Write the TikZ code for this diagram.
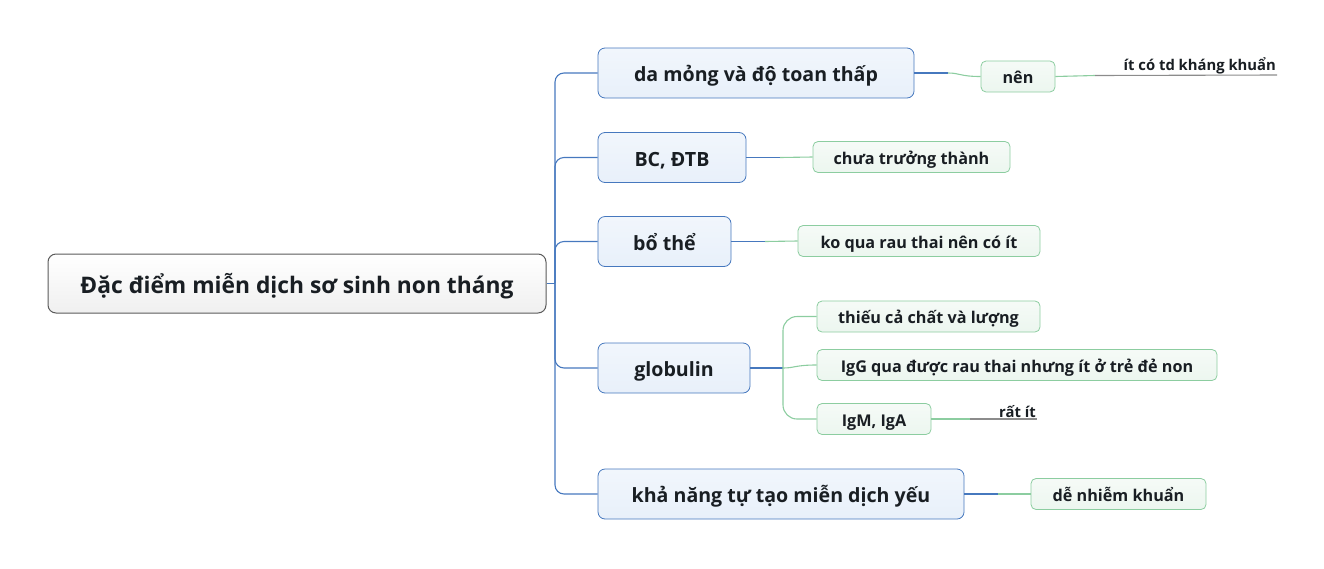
\documentclass[tikz,border=0pt]{standalone}
\usepackage{fontspec}
\setmainfont{Open Sans}
\usepackage{tikz}
\definecolor{txt}{RGB}{25,30,35}
\definecolor{rootline}{RGB}{90,90,90}
\definecolor{mainline}{RGB}{70,120,190}
\definecolor{mainfill}{RGB}{232,240,250}
\definecolor{subline}{RGB}{140,205,160}
\definecolor{subfill}{RGB}{236,246,239}
\definecolor{noteline}{RGB}{140,140,140}
\tikzset{
  rootbox/.style={draw=rootline,rounded corners=8pt,top color=white,bottom color=gray!12,line width=1pt,
    text=txt,inner sep=0pt,text height=19.6pt,text depth=0pt,font=\fontsize{22.8}{26}\selectfont\bfseries},
  mainbox/.style={draw=mainline,rounded corners=7pt,top color=white!40!mainfill,bottom color=mainfill,line width=0.8pt,
    text=txt,inner sep=0pt,minimum height=50pt,text height=17.4pt,text depth=0pt,font=\fontsize{19.6}{23}\selectfont\bfseries},
  subbox/.style={draw=subline,rounded corners=5pt,top color=white!50!subfill,bottom color=subfill,line width=0.8pt,
    text=txt,inner sep=0pt,minimum height=31pt,text height=14pt,text depth=0pt,font=\fontsize{16.2}{19}\selectfont\bfseries},
  notetext/.style={text=txt,inner sep=1pt,font=\fontsize{14.8}{17}\selectfont\bfseries},
  bluelink/.style={draw=mainline,line width=1.1pt},
  greenlink/.style={draw=subline,line width=1.1pt},
  graylink/.style={draw=noteline,line width=1.1pt}
}
\begin{document}
\begin{tikzpicture}[x=1pt,y=-1pt]
\useasboundingbox (0,0) rectangle (1324,568);
% root
\node[rootbox,minimum width=498pt,minimum height=59pt] (root) at (297,283.5) {Đặc điểm miễn dịch sơ sinh non tháng};
% main branches
\node[mainbox,minimum width=316pt] (da) at (756,73) {da mỏng và độ toan thấp};
\node[mainbox,minimum width=148pt] (bc) at (672,157.5) {BC, ĐTB};
\node[mainbox,minimum width=133pt] (bo) at (664.5,241.5) {bổ thể};
\node[mainbox,minimum width=152pt] (glo) at (674,368) {globulin};
\node[mainbox,minimum width=366pt] (kha) at (781,494) {khả năng tự tạo miễn dịch yếu};
% sub branches
\node[subbox,minimum width=74pt] (nen) at (1018,76.5) {nên};
\node[subbox,minimum width=197pt] (chua) at (911.5,157) {chưa trưởng thành};
\node[subbox,minimum width=242pt] (ko) at (919,241) {ko qua rau thai nên có ít};
\node[subbox,minimum width=223pt] (thieu) at (928.5,316.5) {thiếu cả chất và lượng};
\node[subbox,minimum width=400pt] (igg) at (1017,365) {IgG qua được rau thai nhưng ít ở trẻ đẻ non};
\node[subbox,minimum width=114pt] (igm) at (874,419) {IgM, IgA};
\node[subbox,minimum width=175pt] (de) at (1118.5,494) {dễ nhiễm khuẩn};
% notes
\node[notetext,anchor=south east] (itco) at (1277,75) {ít có td kháng khuẩn};
\node[notetext,anchor=south east] (ratit) at (1037,419) {rất ít};
% trunk
\coordinate (trunk) at (555,283.5);
\draw[bluelink] (root.east) -- (trunk);
\foreach \m in {da,bc,bo,glo,kha}
  \draw[bluelink,rounded corners=9pt] (trunk) |- (\m.west);
% main -> sub
\coordinate (j1) at (948,73);
\coordinate (j2) at (780,157.5);
\coordinate (j3) at (765,241.5);
\coordinate (j4) at (783,368);
\coordinate (j5) at (998,494);
\draw[bluelink] (da.east) -- (j1);
\draw[greenlink] (j1) .. controls (960,73) and (960,76.5) .. (nen.west);
\draw[bluelink] (bc.east) -- (j2);
\draw[greenlink] (j2) -- (chua.west);
\draw[bluelink] (bo.east) -- (j3);
\draw[greenlink] (j3) -- (ko.west);
\draw[bluelink] (glo.east) -- (j4);
\draw[greenlink,rounded corners=14pt] (j4) |- (thieu.west);
\draw[greenlink,rounded corners=14pt] (j4) |- (igm.west);
\draw[greenlink] (j4) .. controls (795,368) and (795,365) .. (igg.west);
\draw[bluelink] (kha.east) -- (j5);
\draw[greenlink] (j5) -- (de.west);
% notes
\coordinate (k1) at (1095,75.5);
\coordinate (k2) at (970,419);
\draw[greenlink] (nen.east) -- (k1);
\draw[graylink] (k1) -- (itco.south east);
\draw[greenlink] (igm.east) -- (k2);
\draw[graylink] (k2) -- (ratit.south east);
\end{tikzpicture}
\end{document}
